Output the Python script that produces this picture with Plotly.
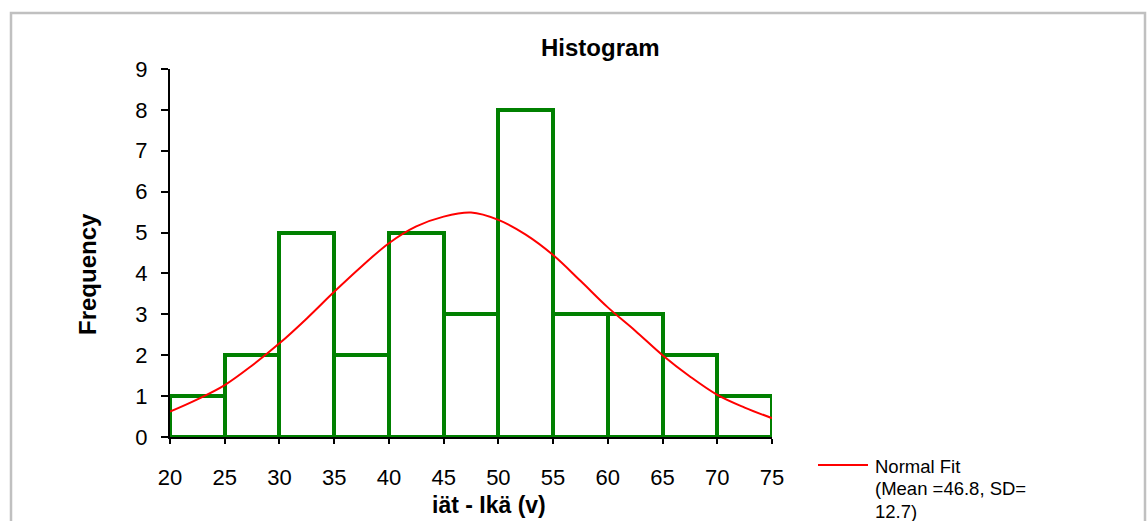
import plotly.graph_objects as go

# Histogram bins (age, years) and counts
bin_centers = [22.5, 27.5, 32.5, 37.5, 42.5, 47.5, 52.5, 57.5, 62.5, 67.5, 72.5]
frequencies = [1, 2, 5, 2, 5, 3, 8, 3, 3, 2, 1]

# Normal fit curve points
fit_x = [20, 22.5, 25, 27.5, 30, 32.5, 35, 37.5, 40, 42.5, 45, 47.5, 50, 52.5, 55, 57.5, 60, 62.5, 65, 67.5, 70, 72.5, 75]
fit_y = [0.62, 0.92, 1.27, 1.75, 2.29, 2.9, 3.55, 4.17, 4.74, 5.15, 5.39, 5.49, 5.31, 4.95, 4.45, 3.82, 3.17, 2.6, 2.0, 1.48, 1.03, 0.72, 0.46]

x_ticks = [20, 25, 30, 35, 40, 45, 50, 55, 60, 65, 70, 75]
y_ticks = [0, 1, 2, 3, 4, 5, 6, 7, 8, 9]

legend_lines = ["Normal Fit", "(Mean =46.8, SD=", "12.7)"]

FONT = "Liberation Sans, Arial, sans-serif"

# plot area in pixels
L, R, T, B = 170, 772, 69, 437
W, H = 1148, 521


def px_x(p):
    return (p - L) / (R - L)


def px_y(p):
    return (B - p) / (B - T)


fig = go.Figure()

fig.add_trace(go.Bar(
    x=bin_centers, y=frequencies, width=5,
    marker=dict(color="rgba(0,0,0,0)", line=dict(color="#008000", width=4)),
    showlegend=False, hoverinfo="x+y",
))

fig.add_trace(go.Scatter(
    x=fit_x, y=fit_y, mode="lines",
    line=dict(color="#ff0000", width=2, shape="spline"),
    name="Normal Fit (Mean =46.8, SD= 12.7)", showlegend=False,
))

annotations = [
    dict(text="<b>Histogram</b>", xref="paper", yref="paper",
         x=px_x(600), y=px_y(48), xanchor="center", yanchor="middle",
         showarrow=False, font=dict(family=FONT, size=24, color="black")),
    dict(text="<b>iät - Ikä (v)</b>", xref="paper", yref="paper",
         x=px_x(489), y=px_y(505), xanchor="center", yanchor="middle",
         showarrow=False, font=dict(family=FONT, size=23, color="black")),
    dict(text="<b>Frequency</b>", xref="paper", yref="paper",
         x=px_x(87), y=px_y(274), xanchor="center", yanchor="middle",
         textangle=-90,
         showarrow=False, font=dict(family=FONT, size=24, color="black")),
]
for i, line in enumerate(legend_lines):
    annotations.append(dict(
        text=line, xref="paper", yref="paper",
        x=px_x(873), y=px_y(466 + 22.5 * i), xanchor="left", yanchor="middle",
        showarrow=False, font=dict(family=FONT, size=18.5, color="black"),
    ))

fig.update_layout(
    width=W, height=H,
    margin=dict(l=L, r=W - R, t=T, b=H - B, pad=0),
    paper_bgcolor="white", plot_bgcolor="white",
    font=dict(family=FONT, size=22, color="black"),
    bargap=0,
    showlegend=False,
    xaxis=dict(
        range=[20, 75], tickvals=x_ticks, ticktext=[str(v) for v in x_ticks],
        showgrid=False, zeroline=False,
        showline=True, linecolor="black", linewidth=2,
        ticks="outside", ticklen=5, tickwidth=2, tickcolor="black",
        ticklabelstandoff=15,
        tickfont=dict(family=FONT, size=22, color="black"),
    ),
    yaxis=dict(
        range=[0, 9], tickvals=y_ticks, ticktext=[str(v) for v in y_ticks],
        showgrid=False, zeroline=False,
        showline=True, linecolor="black", linewidth=2,
        ticks="outside", ticklen=7, tickwidth=2, tickcolor="black",
        ticklabelstandoff=9,
        tickfont=dict(family=FONT, size=22, color="black"),
    ),
    annotations=annotations,
    shapes=[
        dict(type="rect", xref="paper", yref="paper",
             x0=px_x(11), x1=px_x(1145), y0=px_y(560), y1=px_y(13),
             line=dict(color="#c0c0c0", width=2.5), fillcolor="rgba(0,0,0,0)",
             layer="below"),
        dict(type="line", xref="paper", yref="paper",
             x0=px_x(818), x1=px_x(868), y0=px_y(465), y1=px_y(465),
             line=dict(color="#ff0000", width=2)),
    ],
)

fig.write_html("out.html")
